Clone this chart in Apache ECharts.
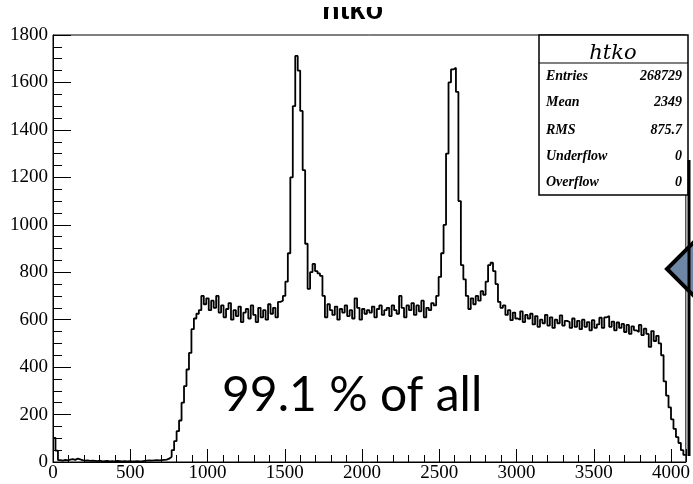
<!DOCTYPE html>
<html><head><meta charset="utf-8">
<script src="https://cdn.jsdelivr.net/npm/echarts@6/dist/echarts.min.js"></script>
<style>html,body{margin:0;padding:0;background:#fff}#c{width:693px;height:484px}</style>
</head><body><div id="c"></div>
<script>
// Histogram "htko": 256 bins of width 16 over 0..4096
var binWidth = 16;
var xMax = 4096;
var counts = [
  102, 48, 8, 6, 9, 7, 10, 12, 9, 14, 11, 8, 6, 7, 5, 6,
  5, 4, 6, 3, 4, 5, 3, 4, 3, 5, 4, 3, 4, 3, 4, 3,
  3, 4, 3, 3, 5, 6, 7, 6, 7, 8, 7, 8, 9, 10, 14, 22,
  50, 88, 130, 175, 250, 320, 390, 460, 560, 605, 625, 640, 700, 665, 690, 640,
  680, 650, 700, 630, 660, 610, 645, 670, 600, 640, 615, 655, 590, 630, 645, 605,
  660, 620, 590, 650, 610, 640, 600, 665, 625, 650, 610, 675, 680, 700, 760, 880,
  1200, 1500, 1712, 1650, 1480, 1230, 920, 730, 800, 835, 805, 795, 785, 700, 610, 665,
  640, 620, 655, 600, 645, 630, 660, 615, 640, 605, 690, 650, 600, 645, 625, 640,
  630, 655, 610, 645, 660, 620, 640, 650, 615, 660, 640, 625, 700, 650, 610, 660,
  640, 670, 620, 660, 635, 680, 610, 650, 640, 670, 660, 700, 780, 880, 1000, 1300,
  1600, 1655, 1662, 1560, 1100, 830, 770, 700, 645, 690, 665, 700, 680, 720, 705, 760,
  830, 840, 805, 750, 675, 650, 660, 620, 640, 598, 630, 605, 600, 635, 590, 620,
  605, 625, 580, 615, 570, 600, 585, 620, 575, 610, 565, 600, 585, 618, 575, 595,
  590, 565, 605, 570, 595, 560, 600, 570, 590, 555, 598, 565, 580, 608, 565, 610,
  615, 570, 592, 555, 588, 565, 582, 548, 578, 540, 572, 555, 548, 578, 535, 562,
  540, 485, 552, 510, 532, 500, 450, 340, 280, 230, 180, 140, 105, 80, 50, 30
];
var xTicks = [0, 500, 1000, 1500, 2000, 2500, 3000, 3500, 4000];
var yTicks = [0, 200, 400, 600, 800, 1000, 1200, 1400, 1600, 1800];
var statsLabels = ['Entries', 'Mean', 'RMS', 'Underflow', 'Overflow'];
var statsValues = ['268729', '2349', '875.7', '0', '0'];
var title = 'htko';
var note = '99.1 % of all';

var data = counts.map(function (v, i) { return [i * binWidth, v]; });
data.push([xMax, counts[counts.length - 1]]);

var chart = echarts.init(document.getElementById('c'), null, {renderer: 'canvas'});
var serif = 'Liberation Serif';
var gridL = 53, gridT = 35, gridW = 636, gridH = 427;

var graphics = [];
// main title (clipped at top)
graphics.push({type: 'text', left: 353 - 31, top: -4, z: 10,
  style: {text: title, font: 'bold 29px "Liberation Sans"', fill: '#000'}});
graphics.push({type: 'rect', shape: {x: 0, y: 0, width: 693, height: 7}, z: 11,
  style: {fill: '#fff'}});
// stats box
graphics.push({type: 'rect', shape: {x: 539, y: 35, width: 149, height: 160}, z: 20,
  style: {fill: '#fff', stroke: '#000', lineWidth: 1.5}});
graphics.push({type: 'line', shape: {x1: 539, y1: 63, x2: 688, y2: 63}, z: 21,
  style: {stroke: '#000', lineWidth: 1.2}});
graphics.push({type: 'text', x: 613, y: 54, z: 21,
  style: {text: title, font: 'italic 21px "DejaVu Serif"', fill: '#000', align: 'center', verticalAlign: 'middle'}});
var rowY = [76.5, 102.5, 130, 156, 182.5];
statsLabels.forEach(function (lab, i) {
  graphics.push({type: 'text', x: 546, y: rowY[i], z: 21,
    style: {text: lab, font: 'italic bold 14px "Liberation Serif"', fill: '#000', align: 'left', verticalAlign: 'middle'}});
  graphics.push({type: 'text', x: 682, y: rowY[i], z: 21,
    style: {text: statsValues[i], font: 'italic bold 14px "Liberation Serif"', fill: '#000', align: 'right', verticalAlign: 'middle'}});
});
// big annotation text
graphics.push({type: 'text', x: 222, y: 396, z: 30,
  style: {text: note, font: '48px Lato', fill: '#000', align: 'left', verticalAlign: 'middle'}});
// callout arrow and thick line at right
graphics.push({type: 'polygon', shape: {points: [[667, 269], [702, 234], [702, 304]]}, z: 40,
  style: {fill: '#6f87a6', stroke: '#000', lineWidth: 4, lineJoin: 'miter'}});
graphics.push({type: 'line', shape: {x1: 689, y1: 160, x2: 689, y2: 456}, z: 41,
  style: {stroke: '#000', lineWidth: 3}});

chart.setOption({
  animation: false,
  backgroundColor: '#fff',
  grid: {left: gridL, top: gridT, width: gridW, height: gridH, show: true, borderColor: '#000', borderWidth: 1, backgroundColor: 'transparent'},
  xAxis: [{
    type: 'value', min: 0, max: xMax, interval: 500, position: 'bottom',
    axisLine: {show: true, lineStyle: {color: '#000', width: 1}},
    axisTick: {show: true, inside: true, length: 13, lineStyle: {color: '#000', width: 1}},
    splitLine: {show: false},
    axisLabel: {color: '#000', fontFamily: serif, fontSize: 19, margin: 2,
      formatter: function (v) { return xTicks.indexOf(v) >= 0 ? String(v) : ''; }}
  }, {
    type: 'value', min: 0, max: xMax, interval: 100, position: 'bottom',
    axisLine: {show: false},
    axisTick: {show: true, inside: true, length: 7, lineStyle: {color: '#000', width: 1}},
    splitLine: {show: false},
    axisLabel: {show: false}
  }],
  yAxis: {
    type: 'value', min: 0, max: 1800, interval: 200,
    axisLine: {show: true, lineStyle: {color: '#000', width: 1}},
    axisTick: {show: true, inside: true, length: 18, lineStyle: {color: '#000', width: 1}},
    minorTick: {show: true, splitNumber: 4, length: 9, lineStyle: {color: '#000', width: 1}},
    splitLine: {show: false},
    axisLabel: {color: '#000', fontFamily: serif, fontSize: 19, margin: 5,
      formatter: function (v) { return yTicks.indexOf(v) >= 0 ? String(v) : ''; }}
  },
  series: [{
    type: 'line', step: 'end', data: data, xAxisIndex: 0, symbol: 'none',
    lineStyle: {color: '#000', width: 1.8}, z: 5
  }],
  graphic: graphics
});
</script></body></html>
